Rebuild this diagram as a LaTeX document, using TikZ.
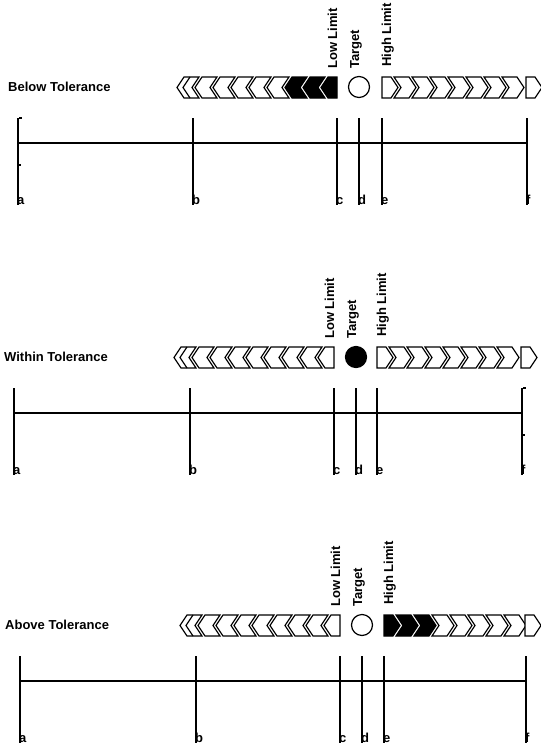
\documentclass[tikz,border=0pt]{standalone}
\usepackage{fontspec}
\setmainfont{Liberation Sans}

% chevrons: #1 = x of back edge, #2 = centre y, #3 = style
\newcommand\chevright[3]{%
  \draw[#3] ({#1},{#2-10.5}) -- ({#1+15},{#2-10.5}) -- ({#1+22},{#2})
    -- ({#1+15},{#2+10.5}) -- ({#1},{#2+10.5}) -- ({#1+7},{#2}) -- cycle;}
\newcommand\flatright[3]{%
  \draw[#3] ({#1},{#2-10.5}) -- ({#1+9},{#2-10.5}) -- ({#1+16},{#2})
    -- ({#1+9},{#2+10.5}) -- ({#1},{#2+10.5}) -- cycle;}
\newcommand\chevleft[3]{%
  \draw[#3] ({#1},{#2-10.5}) -- ({#1-15},{#2-10.5}) -- ({#1-22},{#2})
    -- ({#1-15},{#2+10.5}) -- ({#1},{#2+10.5}) -- ({#1-7},{#2}) -- cycle;}
\newcommand\flatleft[3]{%
  \draw[#3] ({#1},{#2-10.5}) -- ({#1-9},{#2-10.5}) -- ({#1-16},{#2})
    -- ({#1-9},{#2+10.5}) -- ({#1},{#2+10.5}) -- cycle;}

\begin{document}
\begin{tikzpicture}[x=1pt,y=-1pt,
  axisline/.style={line width=2pt},
  stub/.style={line width=1.2pt},
  chevopen/.style={draw=black,fill=white,line width=1.2pt},
  chevfill/.style={draw=black,fill=black,line width=1.2pt},
  tgtopen/.style={fill=white},
  tgtfill/.style={fill=black},
  paneltitle/.style={font=\bfseries\fontsize{13}{13}\selectfont,anchor=west,inner sep=0pt},
  limitlabel/.style={font=\bfseries\fontsize{13}{13}\selectfont,rotate=90,anchor=base west,inner sep=0pt},
  ticklabel/.style={font=\bfseries\fontsize{13}{13}\selectfont,anchor=south west,inner sep=0pt},
  target/.style={circle,draw=black,line width=1.2pt,minimum size=21pt,inner sep=0pt},
]
\useasboundingbox (0,0) rectangle (541,748);
\clip (0,0) rectangle (541,748);
\fill[white] (0,0) rectangle (541,748);

\foreach \p/\dy/\tx/\xa/\xb/\xc/\xd/\xe/\xf/\ttl/\mode in {
    below/0/8/18/193/337/359/382/527/Below Tolerance/1,
    within/270/4/14/190/334/356/377/522/Within Tolerance/2,
    above/538/5/20/196/340/362/384/526/Above Tolerance/3}{
  \pgfmathsetmacro\ry{87.5+\dy}
  \ifnum\mode=1 \def\lowst{chevfill}\else\def\lowst{chevopen}\fi
  \ifnum\mode=2 \def\tgtst{tgtfill}\else\def\tgtst{tgtopen}\fi
  \ifnum\mode=3 \def\highst{chevfill}\else\def\highst{chevopen}\fi

  % title
  \node[paneltitle] (\p-title) at (\tx,{\dy+87}) {\ttl};

  % low side: chevrons pointing left from the low limit
  \flatleft{\xc}{\ry}{\lowst}
  \foreach \k in {0,...,7}{
    \pgfmathsetmacro\bx{\xc-12-18*\k}
    \ifnum\k<2 \chevleft{\bx}{\ry}{\lowst}\else\chevleft{\bx}{\ry}{chevopen}\fi
  }
  \draw[line width=1.2pt] ({\xc-147},{\ry-10.5}) -- ({\xc-154},{\ry}) -- ({\xc-147},{\ry+10.5});

  % high side: chevrons pointing right from the high limit
  \flatright{\xe}{\ry}{\highst}
  \foreach \k in {0,...,6}{
    \pgfmathsetmacro\bx{\xe+12+18*\k}
    \ifnum\k<2 \chevright{\bx}{\ry}{\highst}\else\chevright{\bx}{\ry}{chevopen}\fi
  }
  \flatright{\xf-1}{\ry}{chevopen}

  % target marker
  \node[target,\tgtst] (\p-target) at (\xd,{\ry-0.5}) {};

  % limit labels
  \node[limitlabel] (\p-low) at (\xc,{\dy+69}) {Low Limit};
  \node[limitlabel] (\p-tgt) at (\xd,{\dy+69}) {Target};
  \node[limitlabel] (\p-high) at ({\xe+9},{\dy+67}) {High Limit};

  % scale: verticals a..f and the horizontal bar
  \foreach \n/\xx in {a/\xa,b/\xb,c/\xc,d/\xd,e/\xe,f/\xf}{
    \coordinate (\p-\n-top) at (\xx,{\dy+118});
    \coordinate (\p-\n-bot) at (\xx,{\dy+205});
    \draw[axisline] (\p-\n-top) -- (\p-\n-bot);
    \node[ticklabel] (\p-\n-lab) at ({\xx-1},{\dy+205}) {\n};
  }
  \coordinate (\p-bar-l) at (\xa,{\dy+143});
  \coordinate (\p-bar-r) at (\xf,{\dy+143});
  \draw[axisline] (\p-bar-l) -- (\p-bar-r);
}

% small stubs on the end verticals
\coordinate (s1) at (19,118);  \coordinate (s1e) at (22,118);
\coordinate (s2) at (19,165);  \coordinate (s2e) at (21,165);
\coordinate (s3) at (523,388); \coordinate (s3e) at (526,388);
\coordinate (s4) at (523,435); \coordinate (s4e) at (525,435);
\draw[stub] (s1) -- (s1e);
\draw[stub] (s2) -- (s2e);
\draw[stub] (s3) -- (s3e);
\draw[stub] (s4) -- (s4e);
\end{tikzpicture}
\end{document}
